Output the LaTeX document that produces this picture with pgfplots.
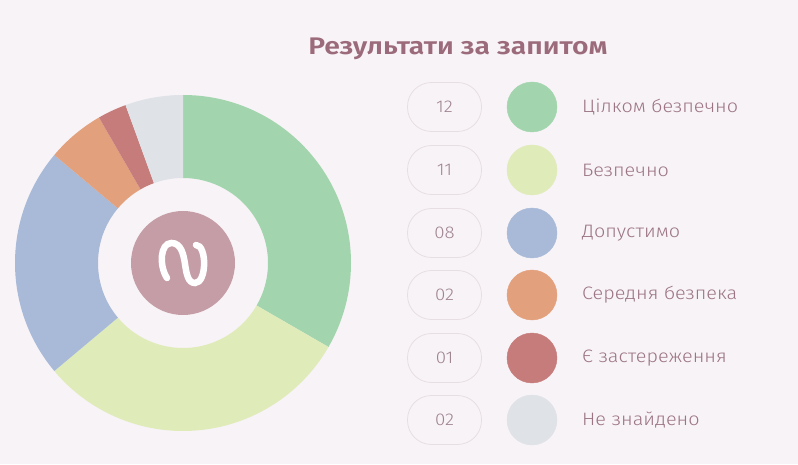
\documentclass[border=0pt]{standalone}
\usepackage{fontspec}
\setmainfont{Fira Sans}
\newfontfamily\lightfont[FakeStretch=1.1]{Fira Sans Light}
\newfontfamily\semifont[FakeStretch=1.18]{Fira Sans SemiBold}
\usepackage{pgfplots}
\usepackage{pgfplotstable}
\pgfplotsset{compat=1.18}
\definecolor{bgc}{HTML}{F8F3F7}
\definecolor{cA}{HTML}{A2D5AE}
\definecolor{cB}{HTML}{DFEBB9}
\definecolor{cC}{HTML}{A8BAD8}
\definecolor{cD}{HTML}{E3A07C}
\definecolor{cE}{HTML}{C77C7C}
\definecolor{cF}{HTML}{DFE2E6}
\definecolor{logoc}{HTML}{C59DA6}
\definecolor{titlec}{HTML}{9C6B7B}
\definecolor{labc}{HTML}{9C7585}
\definecolor{numc}{HTML}{9E8390}
\definecolor{pillc}{HTML}{E7DEE3}
\pgfplotstableread{
val col
12 cA
11 cB
8 cC
2 cD
1 cE
2 cF
}\donut
\begin{document}
\begin{tikzpicture}
\begin{axis}[width=798pt,height=464pt,scale only axis,
  xmin=0,xmax=798,ymin=0,ymax=464,hide axis,clip=false]
\fill[bgc] (axis cs:0,0) rectangle (axis cs:798,464);
% donut from table values
\def\tot{0}
\pgfplotsforeachungrouped \i in {0,...,5}{%
  \pgfplotstablegetelem{\i}{val}\of\donut
  \pgfmathsetmacro\newtot{\tot+\pgfplotsretval}%
  \global\let\tot\newtot
}
\def\cum{0}
\pgfplotsforeachungrouped \i in {0,...,5}{%
  \pgfplotstablegetelem{\i}{val}\of\donut \let\v\pgfplotsretval
  \pgfplotstablegetelem{\i}{col}\of\donut \let\c\pgfplotsretval
  \pgfmathsetmacro\a{90-360*\cum/\tot}%
  \pgfmathsetmacro\cumn{\cum+\v}%
  \pgfmathsetmacro\b{90-360*\cumn/\tot}%
  \edef\temp{\noexpand\fill[\c] (axis cs:183,201) ++(\a:168pt) arc[start angle=\a, end angle=\b, radius=168pt] -- ([shift={(\b:85pt)}]axis cs:183,201) arc[start angle=\b, end angle=\a, radius=85pt] -- cycle;}%
  \temp
  \global\let\cum\cumn
}
% logo
\fill[logoc] (axis cs:183,201) circle[radius=52pt];
\draw[white, line width=6.5pt, line cap=round] (axis cs:167,186) .. controls (axis cs:159,198) and (axis cs:160,221) .. (axis cs:171.5,221) .. controls (axis cs:181,221) and (axis cs:183.5,210) .. (axis cs:185,200) .. controls (axis cs:186.5,190) and (axis cs:188,181) .. (axis cs:195,181) .. controls (axis cs:207,181) and (axis cs:207,219) .. (axis cs:196,219);
% title
\node[text=titlec, font=\semifont\fontsize{24}{24}\selectfont] at (axis cs:458,415) {Результати за запитом};
% legend
\addplot[only marks, mark=*, mark size=25pt, color=cA] coordinates {(532,357)};
\addplot[only marks, mark=*, mark size=25pt, color=cB] coordinates {(532,294)};
\addplot[only marks, mark=*, mark size=25pt, color=cC] coordinates {(532,231)};
\addplot[only marks, mark=*, mark size=25pt, color=cD] coordinates {(532,169)};
\addplot[only marks, mark=*, mark size=25pt, color=cE] coordinates {(532,106)};
\addplot[only marks, mark=*, mark size=25pt, color=cF] coordinates {(532,44)};
\tikzset{pill/.style={draw=pillc, line width=0.8pt, rounded corners=24pt, minimum width=74pt, minimum height=49pt, inner sep=0pt, text=numc, font=\lightfont\fontsize{17}{17}\selectfont},
 lab/.style={anchor=west, text=labc, inner sep=0pt, font=\lightfont\fontsize{18}{18}\selectfont}}
\node[pill] at (axis cs:444.5,357) {12};
\node[pill] at (axis cs:444.5,294) {11};
\node[pill] at (axis cs:444.5,231) {08};
\node[pill] at (axis cs:444.5,169) {02};
\node[pill] at (axis cs:444.5,106) {01};
\node[pill] at (axis cs:444.5,44) {02};
\node[lab] at (axis cs:582,357) {Цілком безпечно};
\node[lab] at (axis cs:582,294) {Безпечно};
\node[lab] at (axis cs:582,231) {Допустимо};
\node[lab] at (axis cs:582,169) {Середня безпека};
\node[lab] at (axis cs:582,106) {Є застереження};
\node[lab] at (axis cs:582,44) {Не знайдено};
\end{axis}
\end{tikzpicture}
\end{document}
